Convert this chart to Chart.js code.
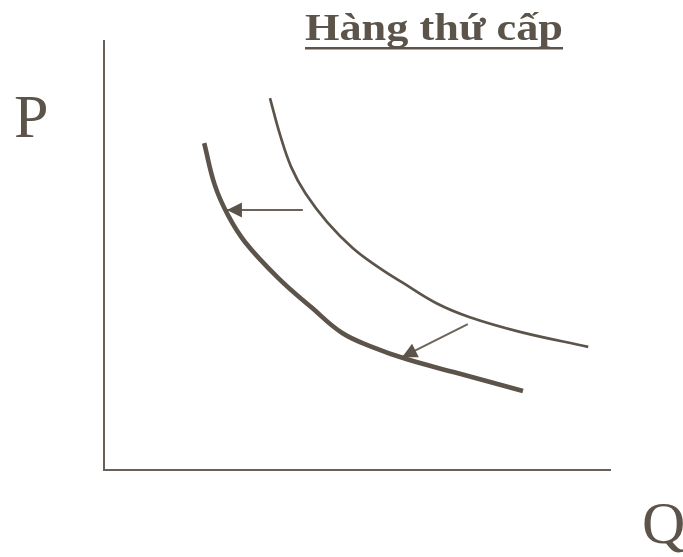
<!DOCTYPE html>
<html><head><meta charset="utf-8">
<script src="https://cdn.jsdelivr.net/npm/chart.js@4/dist/chart.umd.min.js"></script>
<style>html,body{margin:0;padding:0;background:#fff}#wrap{width:683px;height:557px}</style>
</head><body><div id="wrap"><canvas id="c" width="683" height="557"></canvas></div>
<script>
// Text
const titleText = 'Hàng thứ cấp';
const yAxisLabel = 'P';
const xAxisLabel = 'Q';

// Original demand curve (thin)
const curveOriginalQ = [3.28, 3.48, 3.70, 3.98, 4.41, 4.92, 5.42, 5.91, 6.58, 7.23, 8.22, 9.57];
const curveOriginalP = [8.67, 7.81, 7.06, 6.45, 5.78, 5.17, 4.73, 4.36, 3.88, 3.56, 3.22, 2.87];

// Shifted demand curve (thick)
const curveShiftedQ = [1.98, 2.19, 2.45, 2.79, 3.44, 4.11, 4.70, 5.32, 5.99, 6.98, 8.28];
const curveShiftedP = [7.62, 6.64, 5.94, 5.31, 4.48, 3.78, 3.20, 2.86, 2.58, 2.26, 1.84];

// Shift arrows (start -> tip)
const arrowUpperQ = [3.93, 2.43];
const arrowUpperP = [6.06, 6.06];
const arrowLowerQ = [7.19, 5.89];
const arrowLowerP = [3.40, 2.63];

const INK = '#5c544b';
const toPts = (xs, ys) => xs.map((x, i) => ({x: x, y: ys[i]}));

const arrowHeads = {
  id: 'arrowHeads',
  afterDatasetsDraw(chart) {
    const ctx = chart.ctx;
    chart.data.datasets.forEach((ds, i) => {
      if (!ds.isArrow) return;
      const pts = chart.getDatasetMeta(i).data;
      const a = pts[pts.length - 2], b = pts[pts.length - 1];
      const ang = Math.atan2(b.y - a.y, b.x - a.x);
      const len = 15, half = 7.5;
      ctx.save();
      ctx.fillStyle = INK;
      ctx.translate(b.x, b.y);
      ctx.rotate(ang);
      ctx.beginPath();
      ctx.moveTo(0, 0);
      ctx.lineTo(-len, -half);
      ctx.lineTo(-len, half);
      ctx.closePath();
      ctx.fill();
      ctx.restore();
    });
  }
};

const labels = {
  id: 'labels',
  afterDraw(chart) {
    const ctx = chart.ctx;
    ctx.save();
    ctx.fillStyle = INK;
    ctx.textBaseline = 'alphabetic';
    ctx.textAlign = 'left';
    ctx.font = 'bold 37px "Liberation Serif"';
    const w = ctx.measureText(titleText).width;
    const targetW = 258;
    ctx.save();
    ctx.translate(305, 40);
    ctx.scale(targetW / w, 1);
    ctx.fillText(titleText, 0, 0);
    ctx.restore();
    ctx.fillRect(305, 47, targetW, 2.5);
    ctx.font = '62px "Liberation Serif"';
    ctx.fillText(yAxisLabel, 14, 137);
    ctx.font = '60px "Liberation Serif"';
    ctx.fillText(xAxisLabel, 642, 543);
    ctx.restore();
  }
};

const axisStyle = {
  type: 'linear', min: 0, max: 10, display: true,
  ticks: {display: false},
  grid: {display: false, drawTicks: false},
  border: {display: true, color: '#67615a', width: 2}
};

new Chart(document.getElementById('c'), {
  type: 'line',
  data: {
    datasets: [
      {data: toPts(curveOriginalQ, curveOriginalP), borderColor: INK, borderWidth: 2.7, pointRadius: 0, tension: 0.4, fill: false},
      {data: toPts(curveShiftedQ, curveShiftedP), borderColor: INK, borderWidth: 4.6, pointRadius: 0, tension: 0.4, fill: false},
      {data: toPts(arrowUpperQ, arrowUpperP), borderColor: '#6b645c', borderWidth: 2, pointRadius: 0, tension: 0, fill: false, isArrow: true},
      {data: toPts(arrowLowerQ, arrowLowerP), borderColor: '#6b645c', borderWidth: 2, pointRadius: 0, tension: 0, fill: false, isArrow: true}
    ]
  },
  options: {
    responsive: false,
    animation: false,
    events: [],
    layout: {padding: {left: 104, right: 73, top: 41, bottom: 87}},
    plugins: {legend: {display: false}, tooltip: {enabled: false}, title: {display: false}},
    scales: {x: axisStyle, y: Object.assign({}, axisStyle)}
  },
  plugins: [arrowHeads, labels]
});
</script></body></html>
